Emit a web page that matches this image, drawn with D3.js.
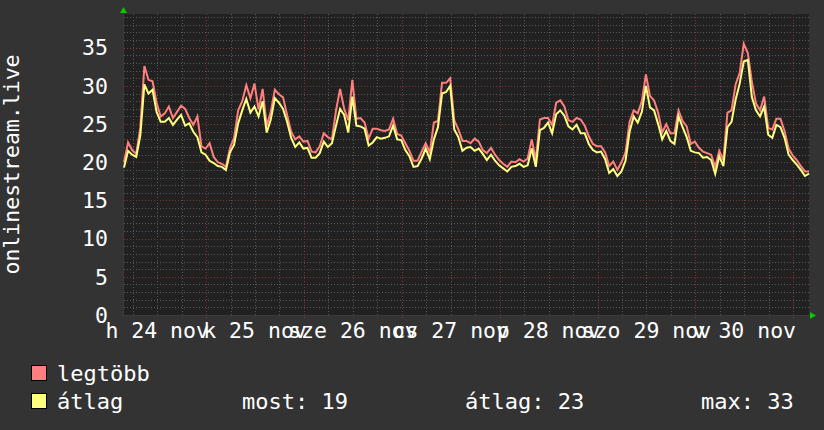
<!DOCTYPE html>
<html>
<head>
<meta charset="utf-8">
<script src="https://cdn.jsdelivr.net/npm/d3@7"></script>
<style>
  html, body { margin: 0; padding: 0; background: #333333; }
  svg { display: block; }
  text { font-family: "DejaVu Sans Mono", monospace; fill: #ffffff; }
</style>
</head>
<body>
<svg id="chart" width="824" height="430"></svg>
<script>
// ---- data (hourly samples starting 2025-11-24 03:52) ----
const startTime = "2025-11-24T03:52:00Z";
const endTime   = "2025-12-01T03:52:00Z";
const seriesNames = ["legtöbb", "átlag"];
const maxValues = [
  20.0,22.6,21.6,21.1,24.5,32.6,30.8,30.6,27.8,26.0,26.4,27.3,25.8,26.6,27.4,27.0,25.8,24.9,26.0,22.1,
  21.8,22.5,20.7,20.0,19.8,19.4,21.9,23.2,26.8,28.0,30.1,28.4,30.3,26.9,29.6,24.8,26.6,29.5,28.9,28.5,
  26.2,24.0,23.0,23.4,22.7,22.8,21.4,21.3,22.1,23.8,23.3,23.0,26.8,29.6,27.0,25.5,30.8,25.7,25.8,25.2,
  23.1,24.4,24.4,24.2,24.1,24.3,25.7,23.7,23.5,22.5,21.5,20.2,20.2,21.4,22.5,21.3,25.2,25.4,30.4,30.4,
  31.0,25.5,24.3,22.8,22.8,22.5,23.1,22.7,21.6,21.2,21.9,21.0,20.3,19.8,19.4,20.1,20.0,20.4,20.1,20.5,
  23.0,20.3,25.6,25.8,25.8,24.9,27.8,28.1,27.3,25.5,25.3,25.8,25.6,24.8,23.4,22.4,22.1,22.1,21.3,19.5,
  20.1,19.0,20.0,21.3,25.3,26.8,26.4,28.0,31.5,28.7,28.1,26.5,23.9,25.0,23.8,23.8,26.8,25.4,24.7,22.4,
  22.7,21.9,21.4,21.2,21.0,19.4,21.5,20.3,26.5,26.8,30.2,31.7,35.5,34.3,30.5,27.7,26.8,28.6,24.5,24.3,
  25.7,25.7,24.1,21.8,20.9,20.3,19.5,18.8,18.8
];
const avgValues = [
  19.3,21.5,21.0,20.7,23.5,30.2,29.0,29.5,26.6,25.3,25.3,25.8,24.9,25.6,26.2,24.8,25.1,24.0,23.3,21.3,
  21.0,20.2,19.9,19.5,19.4,19.0,21.3,22.3,25.1,26.8,28.3,26.5,27.3,26.0,28.0,23.9,25.6,28.4,27.8,27.0,
  25.3,23.2,22.0,22.6,21.8,21.9,20.6,20.6,21.2,22.7,22.0,22.5,24.8,27.0,26.2,23.9,28.6,24.8,24.7,24.4,
  22.2,22.6,23.3,23.1,23.2,23.4,24.8,23.0,22.9,21.6,20.8,19.4,19.5,20.5,21.8,20.4,23.0,24.6,29.0,29.2,
  30.0,24.3,23.3,21.5,21.9,22.0,21.5,21.8,21.1,20.3,21.0,20.2,19.6,19.2,18.8,19.4,19.5,19.8,19.4,19.6,
  21.8,19.4,24.2,24.5,25.2,23.8,26.3,26.8,26.1,24.7,24.3,24.9,23.8,23.8,22.4,21.6,21.3,21.4,20.4,18.6,
  19.1,18.2,18.8,20.2,24.0,26.0,25.2,26.6,30.0,27.2,26.8,25.0,23.0,24.1,22.8,22.4,26.0,24.6,23.3,21.5,
  21.3,21.2,20.6,20.7,20.3,18.5,20.8,19.5,24.6,25.3,28.2,30.3,33.2,33.4,28.5,26.8,26.0,27.3,23.6,23.2,
  24.9,24.6,23.2,21.0,20.3,19.7,19.0,18.2,18.5
];
const yTicks = [0, 5, 10, 15, 20, 25, 30, 35];
const dayLabels = ["h 24 nov", "k 25 nov", "sze 26 nov", "cs 27 nov", "p 28 nov", "szo 29 nov", "v 30 nov"];
const dayLabelDates = ["2025-11-24T12:00:00Z","2025-11-25T12:00:00Z","2025-11-26T12:00:00Z","2025-11-27T12:00:00Z","2025-11-28T12:00:00Z","2025-11-29T12:00:00Z","2025-11-30T12:00:00Z"];
const yTitle = "onlinestream.live";
const legendStats = [["most:", "19"], ["átlag:", "23"], ["max:", "33"]];
const colors = ["#ff7f7f", "#ffff7f"];

// ---- layout ----
const svg = d3.select("#chart");
const L = 124, R = 809, T = 14, B = 315;
const t0 = new Date(startTime), t1 = new Date(endTime);
const x = d3.scaleUtc().domain([t0, t1]).range([L, R]);
const y = d3.scaleLinear().domain([0, 39.42]).range([B, T]);
const times = maxValues.map((_, i) => d3.utcHour.offset(t0, i));

svg.append("rect").attr("width", 824).attr("height", 430).attr("fill", "#333333");
svg.append("rect").attr("x", L).attr("y", T).attr("width", R - L).attr("height", B - T).attr("fill", "#212121");

// grid
const g = svg.append("g");
const minorC = "#585858", majorC = "#7e3636";
const minorY = d3.range(1, 40).filter(v => v % 5 !== 0);
g.selectAll(".hmin").data(minorY).join("line")
  .attr("x1", L).attr("x2", R).attr("y1", d => Math.round(y(d)) + 0.5).attr("y2", d => Math.round(y(d)) + 0.5)
  .attr("stroke", minorC).attr("stroke-dasharray", "1,2");
const minorX = d3.utcHour.every(6).range(t0, t1).filter(d => d.getUTCHours() !== 0);
g.selectAll(".vmin").data(minorX).join("line")
  .attr("y1", T).attr("y2", B + 2).attr("x1", d => Math.round(x(d)) + 0.5).attr("x2", d => Math.round(x(d)) + 0.5)
  .attr("stroke", minorC).attr("stroke-dasharray", "1,2");
g.selectAll(".hmaj").data(yTicks.slice(1)).join("line")
  .attr("x1", L).attr("x2", R).attr("y1", d => Math.round(y(d)) + 0.5).attr("y2", d => Math.round(y(d)) + 0.5)
  .attr("stroke", majorC).attr("stroke-dasharray", "1,2");
const majorX = d3.utcDay.range(t0, t1);
g.selectAll(".vmaj").data(majorX).join("line")
  .attr("y1", T).attr("y2", B + 3).attr("x1", d => Math.round(x(d)) + 0.5).attr("x2", d => Math.round(x(d)) + 0.5)
  .attr("stroke", majorC).attr("stroke-dasharray", "1,2");

// axis lines
svg.append("line").attr("x1", L - 0.5).attr("x2", L - 0.5).attr("y1", T - 2).attr("y2", B + 2).attr("stroke", "#3a3a3a");
svg.append("line").attr("x1", L - 2).attr("x2", R + 2).attr("y1", B + 0.5).attr("y2", B + 0.5).attr("stroke", "#3a3a3a");
// arrows
svg.append("path").attr("d", `M${L - 4},${T - 1} L${L + 3},${T - 1} L${L - 0.5},${T - 7} Z`).attr("fill", "#00cc00");
svg.append("path").attr("d", `M${R + 1},${B - 3} L${R + 1},${B + 4} L${R + 7},${B + 0.5} Z`).attr("fill", "#00cc00");

// lines
const line = d3.line().x((d, i) => x(times[i])).y(d => y(d));
[maxValues, avgValues].forEach((vals, k) => {
  svg.append("path").datum(vals).attr("d", line).attr("fill", "none")
    .attr("stroke", colors[k]).attr("stroke-width", 2).attr("stroke-linejoin", "miter");
});

// y labels
svg.selectAll(".ylab").data(yTicks).join("text")
  .attr("x", 108).attr("y", d => y(d)).attr("dy", "0.36em").attr("text-anchor", "end")
  .style("font-size", "21.5px").text(d => d);
// x labels
svg.selectAll(".xlab").data(dayLabels).join("text")
  .attr("x", (d, i) => x(new Date(dayLabelDates[i]))).attr("y", 338).attr("text-anchor", "middle")
  .style("font-size", "21.5px").text(d => d);
// y title
svg.append("text").attr("transform", `translate(19,${(T + B) / 2}) rotate(-90)`).attr("text-anchor", "middle")
  .style("font-size", "21.5px").text(yTitle);

// legend
const legY = [381, 409];
seriesNames.forEach((n, k) => {
  svg.append("rect").attr("x", 31.5).attr("y", legY[k] - 15.5).attr("width", 15).attr("height", 15)
    .attr("fill", colors[k]).attr("stroke", "#000").attr("stroke-width", 1);
  svg.append("text").attr("x", 57).attr("y", legY[k]).style("font-size", "22px").text(n);
});
const statX = [242, 465, 701];
legendStats.forEach((s, k) => {
  svg.append("text").attr("x", statX[k]).attr("y", 409).style("font-size", "22px").attr("xml:space", "preserve").text(s[0] + " " + s[1]);
});
</script>
</body>
</html>
